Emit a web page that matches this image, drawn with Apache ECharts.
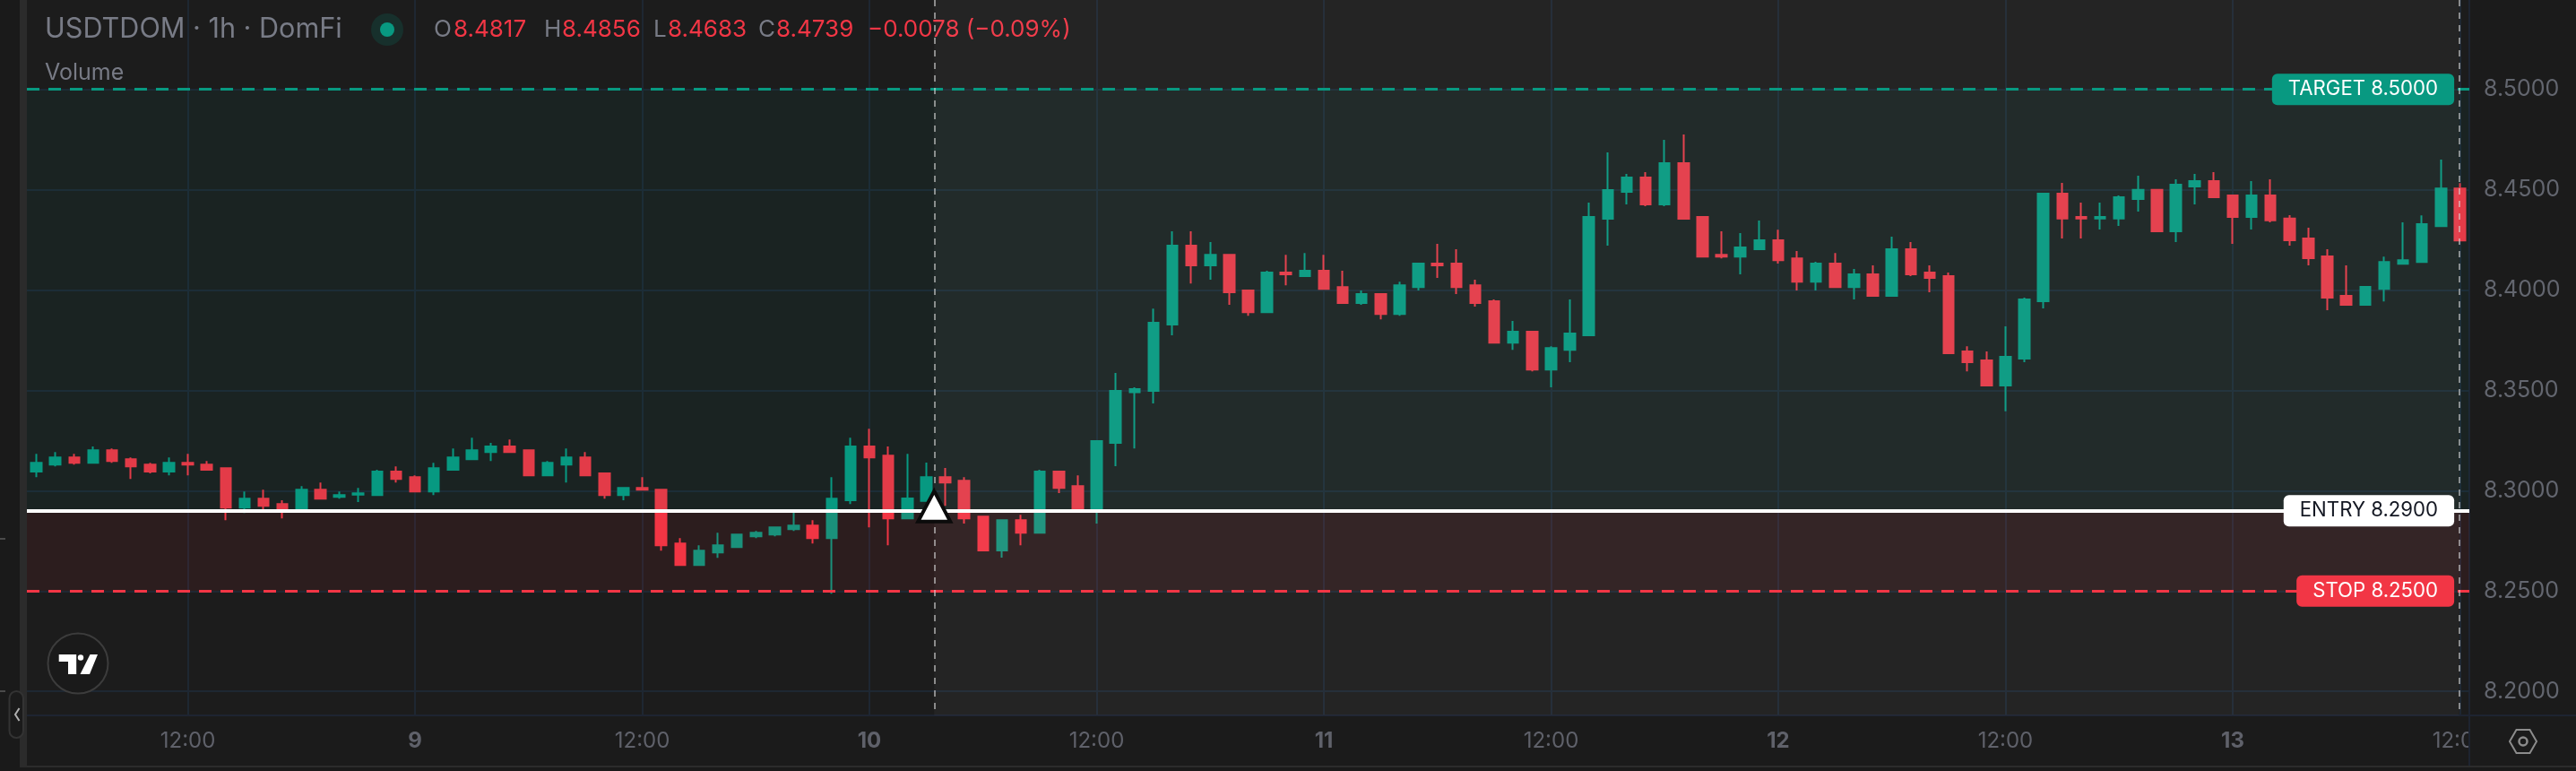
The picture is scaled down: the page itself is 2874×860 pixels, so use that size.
<!DOCTYPE html>
<html><head><meta charset="utf-8">
<style>html,body{margin:0;padding:0;background:#1a1a1a}#c{width:2874px;height:860px}</style>
<script src="https://cdn.jsdelivr.net/npm/echarts@6/dist/echarts.min.js"></script>
</head><body><div id="c"></div>
<script>
const opens=[8.3095,8.3130,8.3166,8.3139,8.3202,8.3157,8.3130,8.3095,8.3139,8.3130,
8.3112,8.2916,8.2960,8.2934,8.2904,8.3005,8.2969,8.2980,8.2978,8.3095,
8.3068,8.2996,8.3104,8.3157,8.3193,8.3220,8.3202,8.3077,8.3130,8.3166,
8.3086,8.2978,8.3014,8.3005,8.2737,8.2630,8.2692,8.2719,8.2773,8.2782,
8.2808,8.2826,8.2764,8.2952,8.3220,8.3175,8.2862,8.2949,8.3068,8.3050,
8.2871,8.2702,8.2853,8.2791,8.3095,8.3023,8.2907,8.3238,8.3491,8.3497,
8.3828,8.4221,8.4123,8.4176,8.3998,8.3890,8.4087,8.4069,8.4096,8.4015,
8.3935,8.3980,8.3881,8.4015,8.4132,8.4132,8.4024,8.3944,8.3738,8.3792,
8.3604,8.3702,8.3774,8.4355,8.4489,8.4561,8.4427,8.4632,8.4364,8.4176,
8.4167,8.4203,8.4248,8.4158,8.4042,8.4132,8.4015,8.4078,8.3971,8.4203,
8.4087,8.4069,8.3694,8.3649,8.3524,8.3658,8.3944,8.4481,8.4364,8.4356,
8.4356,8.4454,8.4499,8.4293,8.4516,8.4543,8.4472,8.4364,8.4472,8.4356,
8.4257,8.4168,8.3971,8.3926,8.4006,8.4131,8.4140,8.4319,8.4506];
const closes=[8.3139,8.3166,8.3139,8.3202,8.3148,8.3121,8.3095,8.3139,8.3130,8.3104,
8.2916,8.2960,8.2925,8.2904,8.3005,8.2960,8.2978,8.2987,8.3095,8.3059,
8.2996,8.3112,8.3166,8.3202,8.3220,8.3193,8.3077,8.3139,8.3166,8.3077,
8.2978,8.3014,8.3005,8.2728,8.2630,8.2701,8.2728,8.2782,8.2791,8.2817,
8.2826,8.2764,8.2960,8.3220,8.3166,8.2862,8.2961,8.3068,8.3041,8.2862,
8.2702,8.2853,8.2791,8.3095,8.3014,8.2907,8.3247,8.3497,8.3506,8.3837,
8.4221,8.4123,8.4176,8.3989,8.3890,8.4087,8.4078,8.4096,8.4006,8.3935,
8.3980,8.3881,8.4024,8.4132,8.4123,8.4015,8.3935,8.3738,8.3792,8.3604,
8.3711,8.3783,8.4364,8.4498,8.4561,8.4427,8.4632,8.4355,8.4167,8.4167,
8.4212,8.4248,8.4149,8.4042,8.4132,8.4015,8.4078,8.3971,8.4203,8.4078,
8.4060,8.3685,8.3640,8.3524,8.3667,8.3953,8.4481,8.4356,8.4356,8.4364,
8.4463,8.4499,8.4293,8.4525,8.4543,8.4463,8.4364,8.4472,8.4347,8.4248,
8.4159,8.3962,8.3926,8.4016,8.4140,8.4149,8.4328,8.4506,8.4247];
const lows=[8.3068,8.3121,8.3130,8.3139,8.3139,8.3059,8.3086,8.3077,8.3077,8.3104,
8.2853,8.2889,8.2898,8.2862,8.2904,8.2960,8.2960,8.2943,8.2978,8.3041,
8.2996,8.2978,8.3104,8.3157,8.3148,8.3193,8.3077,8.3077,8.3041,8.3077,
8.2960,8.2952,8.3005,8.2701,8.2630,8.2630,8.2665,8.2719,8.2764,8.2773,
8.2800,8.2737,8.2487,8.2934,8.2817,8.2728,8.2862,8.2949,8.2925,8.2836,
8.2702,8.2666,8.2728,8.2791,8.2988,8.2907,8.2836,8.3122,8.3211,8.3435,
8.3774,8.4033,8.4051,8.3926,8.3872,8.3890,8.4024,8.4069,8.4006,8.3935,
8.3926,8.3854,8.3872,8.3998,8.4060,8.3980,8.3917,8.3738,8.3702,8.3595,
8.3515,8.3640,8.3774,8.4221,8.4427,8.4418,8.4418,8.4355,8.4167,8.4158,
8.4078,8.4203,8.4132,8.3998,8.3998,8.4015,8.3953,8.3971,8.3971,8.4069,
8.3989,8.3685,8.3595,8.3524,8.3396,8.3640,8.3909,8.4257,8.4257,8.4302,
8.4320,8.4391,8.4293,8.4239,8.4427,8.4463,8.4230,8.4302,8.4338,8.4221,
8.4123,8.3900,8.3926,8.3926,8.3943,8.4131,8.4140,8.4319,8.4247];
const highs=[8.3184,8.3193,8.3184,8.3220,8.3211,8.3166,8.3139,8.3166,8.3184,8.3148,
8.3112,8.2996,8.3005,8.2952,8.3023,8.3041,8.2996,8.3014,8.3104,8.3121,
8.3077,8.3139,8.3211,8.3264,8.3238,8.3255,8.3202,8.3148,8.3211,8.3193,
8.3086,8.3014,8.3068,8.3005,8.2764,8.2728,8.2791,8.2782,8.2800,8.2817,
8.2904,8.2853,8.3068,8.3264,8.3309,8.3220,8.3184,8.3140,8.3113,8.3068,
8.2871,8.2853,8.2880,8.3104,8.3095,8.3077,8.3247,8.3587,8.3515,8.3908,
8.4293,8.4293,8.4239,8.4176,8.3998,8.4096,8.4176,8.4185,8.4176,8.4096,
8.3998,8.3980,8.4042,8.4132,8.4230,8.4203,8.4051,8.3953,8.3846,8.3792,
8.3720,8.3953,8.4436,8.4686,8.4579,8.4588,8.4748,8.4775,8.4364,8.4293,
8.4284,8.4346,8.4301,8.4194,8.4141,8.4185,8.4105,8.4123,8.4266,8.4239,
8.4123,8.4087,8.3720,8.3694,8.3819,8.3962,8.4481,8.4534,8.4436,8.4436,
8.4472,8.4570,8.4499,8.4552,8.4579,8.4588,8.4472,8.4543,8.4552,8.4373,
8.4311,8.4204,8.4123,8.4016,8.4167,8.4337,8.4372,8.4650,8.4533];
const tickIndex=[8,20,32,44,56,68,80,92,104,116,128];
const tickLabels=['12:00','9','12:00','10','12:00','11','12:00','12','12:00','13','12:00'];
const target=8.5, entry=8.29, stop=8.25;
const entryBar=47.92, exitBar=128.46;   // in bar widths from the left edge of the pane
const yTop=8.5446, yBottom=8.188;

const GREEN='#089981', RED='#f23645', GREY='#787b86', FONT='Inter, "Noto Sans", sans-serif';
const categories=opens.map((_,i)=>String(i));
const candleData=opens.map((o,i)=>[o,closes[i],lows[i],highs[i]]);
const N=opens.length;
const P=(x,y,w,h,fill,z)=>({type:'rect',shape:{x,y,width:w,height:h},style:{fill},z:z||1,silent:true});
const T=(x,text,fill)=>({type:'text',x,y:33,z:3,silent:true,style:{text,fontFamily:FONT,fontSize:26,fill,verticalAlign:'middle'}});

const chart=echarts.init(document.getElementById('c'),null,{renderer:'canvas'});
const badge=(value,text,bg,fg)=>({
  xAxis:128.2,yAxis:value,symbol:'rect',symbolSize:0,
  label:{show:true,position:'inside',formatter:text,align:'right',verticalAlign:'middle',
    fontFamily:FONT,fontSize:22.2,color:fg,backgroundColor:bg,borderRadius:6,
    padding:[7,18,6,18],lineHeight:22}
});
chart.setOption({
  animation:false,
  backgroundColor:'#1c1c1c',
  grid:{left:30,width:2725,top:-12.2,height:895.3,containLabel:false,outerBoundsMode:'none'},
  xAxis:[
    {type:'category',data:categories,boundaryGap:true,offset:-85,z:1,
     axisLine:{show:false},axisTick:{show:false},splitLine:{show:false},
     axisLabel:{show:true,interval:i=>tickIndex.includes(+i),hideOverlap:false,margin:17,
       fontFamily:FONT,fontSize:24,color:'#5f616a',
       formatter:(v,i)=>{const k=tickIndex.indexOf(i);if(k<0)return '';
         return tickLabels[k].includes(':')?tickLabels[k]:'{b|'+tickLabels[k]+'}';},
       rich:{b:{fontFamily:FONT,fontSize:24,fontWeight:700,color:'#5f616a'}}}},
    {type:'value',min:0,max:N,show:false,splitLine:{show:false}}
  ],
  yAxis:{type:'value',position:'right',min:8.15,max:8.55,interval:0.05,z:3,
    axisLine:{show:false},axisTick:{show:false},
    splitLine:{show:true,lineStyle:{color:'#1e2732',width:2}},
    axisLabel:{margin:16,padding:[0,0,2,0],fontFamily:FONT,fontSize:25,color:'#63666f',formatter:v=>v.toFixed(4)}},
  series:[
    {type:'line',name:'grid',xAxisIndex:1,yAxisIndex:0,data:[],silent:true,
     markLine:{z:1,silent:true,symbol:'none',animation:false,label:{show:false},
       lineStyle:{color:'#1e2732',width:2,type:'solid'},
       data:tickIndex.map(i=>[{xAxis:i+0.5,yAxis:yBottom},{xAxis:i+0.5,yAxis:yTop}])}},
    {type:'candlestick',name:'USDTDOM',xAxisIndex:0,yAxisIndex:0,data:candleData,barWidth:12,z:4,
     itemStyle:{color:GREEN,color0:RED,borderColor:GREEN,borderColor0:RED,borderColorDoji:RED,borderWidth:2}},
    {type:'line',name:'position',xAxisIndex:1,yAxisIndex:0,data:[],silent:true,
     markArea:{z:5,silent:true,animation:false,label:{show:false},data:[
       [{xAxis:0,yAxis:target,itemStyle:{color:'rgba(8,153,129,0.06)'}},{xAxis:N,yAxis:entry}],
       [{xAxis:0,yAxis:entry,itemStyle:{color:'rgba(242,54,69,0.08)'}},{xAxis:N,yAxis:stop}],
       [{xAxis:entryBar,yAxis:yTop,itemStyle:{color:'rgba(255,255,255,0.04)'}},{xAxis:exitBar,yAxis:yBottom}]
     ]},
     markLine:{z:6,silent:true,symbol:'none',animation:false,label:{show:false},data:[
       [{xAxis:0,yAxis:target,lineStyle:{color:GREEN,width:3,type:[14,10]}},{xAxis:N,yAxis:target}],
       [{xAxis:0,yAxis:stop,lineStyle:{color:RED,width:3,type:[14,10]}},{xAxis:N,yAxis:stop}],
       [{xAxis:entryBar,yAxis:yTop,lineStyle:{color:'rgba(215,215,215,0.58)',width:2,type:[7,7]}},{xAxis:entryBar,yAxis:yBottom}],
       [{xAxis:exitBar,yAxis:yTop,lineStyle:{color:'rgba(215,215,215,0.58)',width:2,type:[7,7]}},{xAxis:exitBar,yAxis:yBottom}],
       [{xAxis:0,yAxis:entry,lineStyle:{color:'#ffffff',width:4,type:'solid'}},{xAxis:N,yAxis:entry}]
     ]},
     markPoint:{z:7,silent:true,animation:false,data:[
       {xAxis:entryBar,yAxis:entry,symbol:'triangle',symbolSize:[36,34],symbolOffset:[0,-5],
        itemStyle:{color:'#ffffff',borderColor:'#0b0b0b',borderWidth:4,borderJoin:'miter'},label:{show:false}},
       badge(target,'TARGET 8.5000',GREEN,'#ffffff'),
       badge(entry,'ENTRY 8.2900','#ffffff','#131722'),
       badge(stop,'STOP 8.2500',RED,'#ffffff')
     ]}}
  ],
  graphic:{elements:[
    P(0,0,22,860,'#1a1a1a',1),P(22,0,8,860,'#2b2b2b',1),
    P(2755,0,119,860,'#1b1b1b',2),
    P(30,798,2725,57,'#1b1b1b',0),
    P(30,797,2844,2,'#1e2431',2),P(2754,0,2,855,'#1e2431',2),
    P(30,854,2844,2,'#2c2c2c',2),P(0,856,2874,4,'#1a1a1a',2),
    P(0,600,6,2,'#4a4a4a',2),P(0,770,6,2,'#4a4a4a',2),
    {type:'rect',shape:{x:10.5,y:771,width:15.5,height:52,r:8},style:{fill:'#1b1b1b',stroke:'#333333',lineWidth:2},z:4,silent:true},
    {type:'polyline',shape:{points:[[21.5,790],[17,797],[21.5,804]]},style:{stroke:'#b0b0b0',lineWidth:2,fill:null},z:4,silent:true},
    {type:'circle',shape:{cx:87,cy:740,r:33.5},style:{fill:'#1a1a1a',stroke:'#3c3c3c',lineWidth:2},z:8,silent:true},
    {type:'polygon',shape:{points:[[65.7,730],[85.2,730],[85.2,752],[76,752],[76,738],[65.7,738]]},style:{fill:'#ffffff'},z:9,silent:true},
    {type:'circle',shape:{cx:90,cy:733.5,r:3.2},style:{fill:'#ffffff'},z:9,silent:true},
    {type:'polygon',shape:{points:[[109,730],[100.5,730],[89.5,752],[100,752]]},style:{fill:'#ffffff'},z:9,silent:true},
    {type:'text',x:50,y:33,z:3,silent:true,style:{text:'USDTDOM · 1h · DomFi',fontFamily:FONT,fontSize:30.6,fill:GREY,verticalAlign:'middle'}},
    {type:'circle',shape:{cx:432,cy:33,r:18},style:{fill:'#17302c'},z:3,silent:true},
    {type:'circle',shape:{cx:432,cy:33,r:8},style:{fill:GREEN},z:3,silent:true},
    T(484,'O',GREY),T(506,'8.4817',RED),
    T(607,'H',GREY),T(627,'8.4856',RED),
    T(729,'L',GREY),T(745,'8.4683',RED),
    T(846,'C',GREY),T(866,'8.4739',RED),
    T(968,'−0.0078 (−0.09%)',RED),
    {type:'text',x:50,y:81,z:3,silent:true,style:{text:'Volume',fontFamily:FONT,fontSize:25,fill:GREY,verticalAlign:'middle'}},
    {type:'polygon',shape:{points:[[2800,827],[2807.5,814],[2822.5,814],[2830,827],[2822.5,840],[2807.5,840]]},style:{fill:null,stroke:'#8c8c8c',lineWidth:2},z:8,silent:true},
    {type:'circle',shape:{cx:2815,cy:827,r:4.5},style:{fill:null,stroke:'#8c8c8c',lineWidth:2.5},z:8,silent:true}
  ]}
});
</script></body></html>
